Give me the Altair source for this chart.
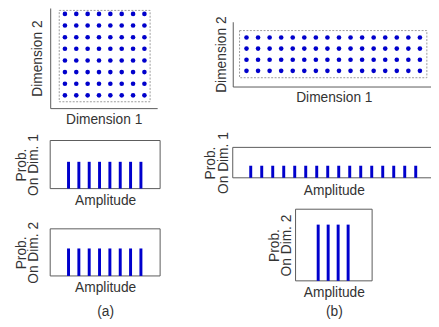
import altair as alt
import pandas as pd

# ---------------- data ----------------
grid_a_dim1 = [1, 2, 3, 4, 5, 6, 7, 8]
grid_a_dim2 = [1, 2, 3, 4, 5, 6, 7, 8]
grid_b_dim1 = [1, 2, 3, 4, 5, 6, 7, 8, 9, 10, 11, 12, 13, 14, 15, 16]
grid_b_dim2 = [1, 2, 3, 4]

amp_a_dim1 = [1, 2, 3, 4, 5, 6, 7, 8]
prob_a_dim1 = [0.125, 0.125, 0.125, 0.125, 0.125, 0.125, 0.125, 0.125]
amp_a_dim2 = [1, 2, 3, 4, 5, 6, 7, 8]
prob_a_dim2 = [0.125, 0.125, 0.125, 0.125, 0.125, 0.125, 0.125, 0.125]
amp_b_dim1 = [1, 2, 3, 4, 5, 6, 7, 8, 9, 10, 11, 12, 13, 14, 15, 16]
prob_b_dim1 = [0.0625, 0.0625, 0.0625, 0.0625, 0.0625, 0.0625, 0.0625, 0.0625,
               0.0625, 0.0625, 0.0625, 0.0625, 0.0625, 0.0625, 0.0625, 0.0625]
amp_b_dim2 = [1, 2, 3, 4]
prob_b_dim2 = [0.25, 0.25, 0.25, 0.25]

# ---------------- layout ----------------
W, H = 431, 319
BLUE = "#0000cc"
AXC = "#5a5a5a"
TXT = "#333333"
DASH = "#9a9a9a"
FONT = "Liberation Sans"


def dom(v0, p0, v1, p1, a0, a1):
    s = (p1 - p0) / (v1 - v0)
    return [v0 + (a0 - p0) / s, v0 + (a1 - p0) / s]


def sc(d, r):
    return alt.Scale(domain=d, range=r, nice=False, zero=False)


def grid_df(xs, ys):
    return pd.DataFrame([(i, j) for j in ys for i in xs], columns=["d1", "d2"])


def box_df(xd, yd):
    return pd.DataFrame({"x0": [xd[0]], "x1": [xd[1]], "y0": [yd[0]], "y1": [yd[1]]})


layers = []


def scatter_panel(xs, ys, xr, xd, yr, yd, dash_x, dash_y, x_pad, y_pad):
    dash = alt.Chart(box_df(dash_x, dash_y)).mark_rect(
        filled=False, stroke=DASH, strokeWidth=1, strokeDash=[2, 1.5]
    ).encode(
        x=alt.X("x0:Q", scale=sc(xd, xr), axis=None),
        x2="x1",
        y=alt.Y("y0:Q", scale=sc(yd, yr), axis=None),
        y2="y1",
    )
    pts = alt.Chart(grid_df(xs, ys)).mark_circle(size=22, color=BLUE, opacity=1).encode(
        x=alt.X("d1:Q", scale=sc(xd, xr),
                axis=alt.Axis(orient="bottom", offset=yr[0] - H, domain=True,
                              title="Dimension 1", titlePadding=x_pad)),
        y=alt.Y("d2:Q", scale=sc(yd, yr),
                axis=alt.Axis(orient="left", offset=-xr[0], domain=True,
                              title="Dimension 2", titlePadding=y_pad)),
    )
    return [dash, pts]


def bar_panel(amps, probs, xr, xd, yr, yd, xtitle, ytitle, x_pad, x_lh, y_pad, y_lh):
    df = pd.DataFrame({"amp": amps, "prob": probs})
    frame = alt.Chart(box_df(xd, yd)).mark_rect(
        filled=False, stroke=AXC, strokeWidth=1
    ).encode(
        x=alt.X("x0:Q", scale=sc(xd, xr), axis=None),
        x2="x1",
        y=alt.Y("y0:Q", scale=sc(yd, yr), axis=None),
        y2="y1",
    )
    bars = alt.Chart(df).mark_bar(size=3, color=BLUE, orient="vertical").encode(
        x=alt.X("amp:Q", scale=sc(xd, xr),
                axis=alt.Axis(orient="bottom", offset=yr[0] - H, domain=False,
                              title=xtitle, titlePadding=x_pad, titleLineHeight=x_lh)),
        y=alt.Y("prob:Q", scale=sc(yd, yr),
                axis=alt.Axis(orient="left", offset=-xr[0], domain=False,
                              title=ytitle, titlePadding=y_pad, titleLineHeight=y_lh)),
    )
    return [frame, bars]


# panel (a) top: 8 x 8 constellation
a1_xr, a1_yr = [43, 152], [99, -3]
layers += scatter_panel(grid_a_dim1, grid_a_dim2,
                        a1_xr, dom(1, 58, 8, 139, *a1_xr),
                        a1_yr, dom(1, 86, 8, 3, *a1_yr),
                        [0.5, 8.5], [0.45, 8.3], 5, 6)

# panel (b) top: 16 x 4 constellation
b1_xr, b1_yr = [229, 435], [77, 11]
layers += scatter_panel(grid_b_dim1, grid_b_dim2,
                        b1_xr, dom(1, 243, 16, 419.7, *b1_xr),
                        b1_yr, dom(1, 61, 4, 27, *b1_yr),
                        [0.4, 16.6], [0.38, 4.62], 4, 4)

# (a) probability on dim 1
a2_xr, a2_yr = [43, 155], [181, 132]
layers += bar_panel(amp_a_dim1, prob_a_dim1,
                    a2_xr, dom(1, 58, 8, 139, *a2_xr),
                    a2_yr, dom(0, 181, 0.125, 153.7, *a2_yr),
                    "Amplitude", ["Prob.", "On Dim. 1"], 5, 16, 10, 12)

# (a) probability on dim 2
a3_xr, a3_yr = [43, 155], [270, 222]
layers += bar_panel(amp_a_dim2, prob_a_dim2,
                    a3_xr, dom(1, 58, 8, 139, *a3_xr),
                    a3_yr, dom(0, 270, 0.125, 242, *a3_yr),
                    ["Amplitude", "(a)"], ["Prob.", "On Dim. 2"], 5, 24, 10, 12)

# (b) probability on dim 1
b2_xr, b2_yr = [229, 435], [170, 139]
layers += bar_panel(amp_b_dim1, prob_b_dim1,
                    b2_xr, dom(1, 243, 16, 419.7, *b2_xr),
                    b2_yr, dom(0, 170, 0.0625, 157.7, *b2_yr),
                    "Amplitude", ["Prob.", "On Dim. 1"], 6, 16, 2, 14)

# (b) probability on dim 2
b3_xr, b3_yr = [293, 371], [275, 202]
layers += bar_panel(amp_b_dim2, prob_b_dim2,
                    b3_xr, dom(1, 313.7, 4, 348.7, *b3_xr),
                    b3_yr, dom(0, 275, 0.25, 217.7, *b3_yr),
                    ["Amplitude", "(b)"], ["Prob.", "On Dim. 2"], 5, 19, 2, 12)

chart = alt.layer(*layers).resolve_scale(
    x="independent", y="independent"
).resolve_axis(
    x="independent", y="independent"
).properties(
    width=W, height=H,
    autosize=alt.AutoSizeParams(type="none"),
    padding=0,
).configure_view(
    strokeWidth=0
).configure_axis(
    ticks=False, labels=False, grid=False,
    domainColor=AXC, domainWidth=1,
    titleFont=FONT, titleFontSize=14, titleFontWeight="normal", titleColor=TXT,
)

chart.save("out.html", embed_options={"renderer": "svg", "actions": False})
